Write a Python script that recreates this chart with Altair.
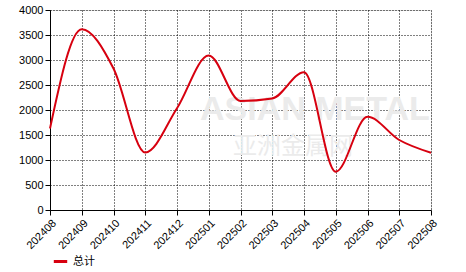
import altair as alt
import pandas as pd

months = ["202408", "202409", "202410", "202411", "202412", "202501", "202502",
          "202503", "202504", "202505", "202506", "202507", "202508"]
values = [1630, 3615, 2830, 1150, 2035, 3090, 2180, 2230, 2755, 765, 1865, 1400, 1145]
series = ["总计"] * len(months)

df = pd.DataFrame({"month": months, "value": values, "series": series})

font = "Liberation Sans, Noto Sans CJK SC"

line = alt.Chart(df).mark_line(strokeWidth=2, interpolate="monotone").encode(
    x=alt.X("month:N", sort=months, scale=alt.Scale(type="point", padding=0),
            axis=alt.Axis(title=None, labelAngle=-45, grid=True, gridDash=[1, 2],
                          gridColor="#000", gridOpacity=1, domainColor="#000",
                          tickColor="#000", tickSize=5, labelFontSize=11,
                          labelColor="#000", labelFont=font, labelPadding=2)),
    y=alt.Y("value:Q", scale=alt.Scale(domain=[0, 4000], nice=False),
            axis=alt.Axis(title=None, values=list(range(0, 4001, 500)), format="d",
                          grid=True, gridDash=[1, 2], gridColor="#000", gridOpacity=1,
                          domainColor="#000", tickColor="#000", tickSize=5,
                          labelFontSize=11, labelColor="#000", labelFont=font,
                          labelPadding=2)),
    color=alt.Color("series:N", scale=alt.Scale(range=["#d7000f"]),
                    legend=alt.Legend(title=None, orient="none", legendX=2, legendY=243,
                                      symbolType="stroke", symbolStrokeWidth=3,
                                      symbolSize=180, labelFontSize=11,
                                      labelFont=font, labelColor="#000")),
)

wm1 = alt.Chart(pd.DataFrame({"t": ["ASIAN METAL"]})).mark_text(
    fontSize=34, fontWeight="bold", color="#ebebeb", font="Liberation Sans", align="left"
).encode(text="t:N", x=alt.value(150), y=alt.value(100))
wm2 = alt.Chart(pd.DataFrame({"t": ["亚洲金属网"]})).mark_text(
    fontSize=24, color="#ebebeb", font="Noto Sans CJK SC", align="left"
).encode(text="t:N", x=alt.value(183), y=alt.value(137))

chart = alt.layer(wm1, wm2, line).properties(
    width=381, height=200,
    autosize=alt.AutoSizeParams(type="none"),
    padding={"left": 50, "top": 10, "right": 35, "bottom": 62},
).configure_view(stroke=None).configure(background="white")

chart.save("out.html", embed_options={"renderer": "svg", "actions": False})
